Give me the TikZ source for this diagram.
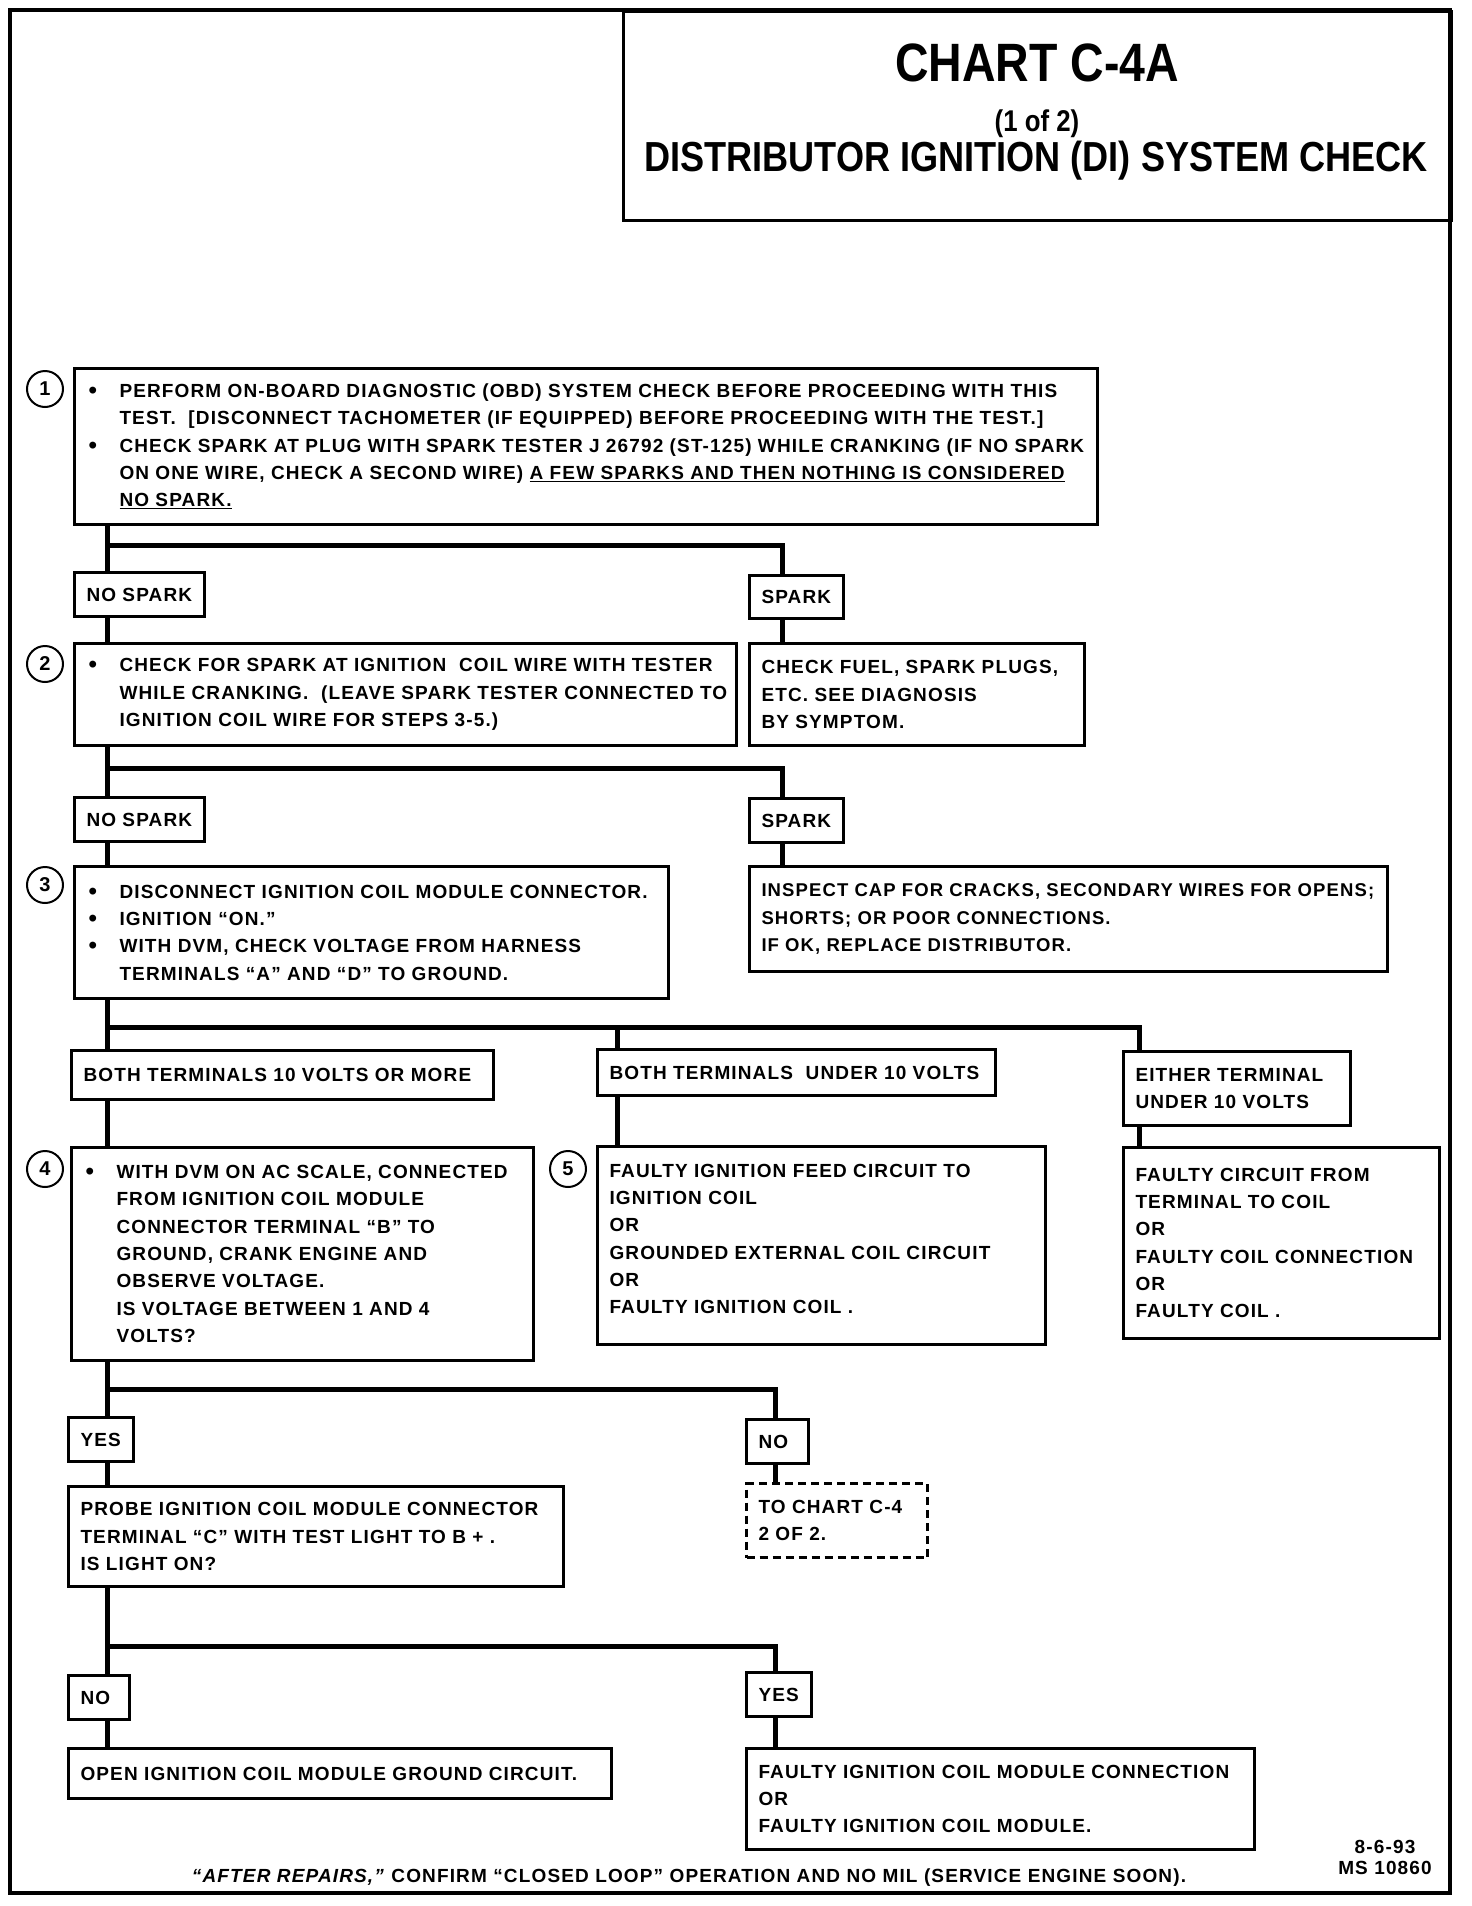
\documentclass[tikz,border=0pt]{standalone}
\usepackage{fontspec}
\setmainfont[LetterSpace=6]{Liberation Sans}
\newfontfamily\condfont[FakeStretch=0.86]{Liberation Sans}
\newcommand\bul[1]{\mbox{\hspace*{2pt}\makebox[31pt][l]{\raisebox{-1pt}{\fontsize{24}{24}\selectfont\textbullet}}#1}}
\newcommand\ind[1]{\mbox{\hspace*{33pt}#1}}
\newcommand\lnx[1]{\mbox{#1}}
\newcommand\bodyfont{\fontsize{19}{27.3}\selectfont\bfseries}
\begin{document}
\begin{tikzpicture}[x=1pt,y=-1pt,
  box/.style={draw,line width=3pt,anchor=north west,align=left,inner xsep=12pt,inner ysep=0pt,font=\bodyfont},
  dbox/.style={box,dash pattern=on 8pt off 5pt},
  conn/.style={line width=5pt},
  num/.style={draw,circle,line width=2pt,minimum size=36pt,inner sep=0pt,font=\fontsize{20}{20}\selectfont\bfseries},
  ttl/.style={anchor=base,inner sep=0pt,font=\condfont\bfseries}
]
\useasboundingbox (0,0) rectangle (1472,1906);
\draw[line width=4pt] (10,10) rectangle (1450,1893);

% title
\node[draw,line width=3pt,anchor=north west,minimum width=828pt,minimum height=209pt,inner sep=0pt] (tbox) at (622,10) {};
\node[ttl,font=\condfont\bfseries\fontsize{54}{60}\selectfont] (t1) at (1037,81) {CHART C-4A};
\node[ttl,font=\condfont\bfseries\fontsize{30}{34}\selectfont] (t2) at (1037,131) {(1 of 2)};
\node[ttl,font=\condfont\bfseries\fontsize{42}{46}\selectfont] (t3) at (1036,171) {DISTRIBUTOR IGNITION (DI) SYSTEM CHECK};

% step 1
\node[num] (c1) at (45,389) {1};
\node[box,text width=999pt,minimum height=156pt] (b1) at (73,367) {%
\bul{PERFORM ON-BOARD DIAGNOSTIC (OBD) SYSTEM CHECK BEFORE PROCEEDING WITH THIS}\\
\ind{TEST.\ \ [DISCONNECT TACHOMETER (IF EQUIPPED) BEFORE PROCEEDING WITH THE TEST.]}\\
\bul{CHECK SPARK AT PLUG WITH SPARK TESTER J 26792 (ST-125) WHILE CRANKING (IF NO SPARK}\\
\ind{ON ONE WIRE, CHECK A SECOND WIRE) \underline{A FEW SPARKS AND THEN NOTHING IS CONSIDERED}}\\
\ind{\underline{NO SPARK.}}};

\coordinate (j1) at (107,545);
\coordinate (j1r) at (782,545);
\node[box,text width=106pt,minimum height=44pt] (ns1) at (73,571) {\lnx{NO SPARK}};
\node[box,text width=70pt,minimum height=43pt] (sp1) at (748,574) {\lnx{SPARK}};

% step 2
\node[num] (c2) at (45,664) {2};
\node[box,text width=638pt,minimum height=102pt] (b2) at (73,642) {%
\bul{CHECK FOR SPARK AT IGNITION\ \ COIL WIRE WITH TESTER}\\
\ind{WHILE CRANKING.\ \ (LEAVE SPARK TESTER CONNECTED TO}\\
\ind{IGNITION COIL WIRE FOR STEPS 3-5.)}};
\node[box,text width=311pt,minimum height=102pt] (fuel) at (748,642) {%
\lnx{CHECK FUEL, SPARK PLUGS,}\\\lnx{ETC. SEE DIAGNOSIS}\\\lnx{BY SYMPTOM.}};

\coordinate (j2) at (107,768);
\coordinate (j2r) at (782,768);
\node[box,text width=106pt,minimum height=44pt] (ns2) at (73,796) {\lnx{NO SPARK}};
\node[box,text width=70pt,minimum height=44pt] (sp2) at (748,797) {\lnx{SPARK}};

% step 3
\node[num] (c3) at (45,885) {3};
\node[box,text width=570pt,minimum height=132pt] (b3) at (73,865) {%
\bul{DISCONNECT IGNITION COIL MODULE CONNECTOR.}\\
\bul{IGNITION “ON.”}\\
\bul{WITH DVM, CHECK VOLTAGE FROM HARNESS}\\
\ind{TERMINALS “A” AND “D” TO GROUND.}};
\node[box,text width=614pt,minimum height=105pt,font=\fontsize{18.5}{27.3}\selectfont\bfseries] (insp) at (748,865) {%
\lnx{INSPECT CAP FOR CRACKS, SECONDARY WIRES FOR OPENS;}\\\lnx{SHORTS; OR POOR CONNECTIONS.}\\\lnx{IF OK, REPLACE DISTRIBUTOR.}};

\coordinate (j3) at (107,1027);
\coordinate (j3m) at (617,1027);
\coordinate (j3r) at (1139,1027);
\node[box,text width=398pt,minimum height=49pt] (l10) at (70,1049) {\lnx{BOTH TERMINALS 10 VOLTS OR MORE}};
\node[box,text width=374pt,minimum height=46pt] (lu10) at (596,1048) {\lnx{BOTH TERMINALS\ \ UNDER 10 VOLTS}};
\node[box,text width=203pt,minimum height=74pt] (leit) at (1122,1050) {\lnx{EITHER TERMINAL}\\\lnx{UNDER 10 VOLTS}};

% step 4 / 5
\node[num] (c4) at (45,1169) {4};
\node[box,text width=438pt,minimum height=213pt] (b4) at (70,1146) {%
\bul{WITH DVM ON AC SCALE, CONNECTED}\\
\ind{FROM IGNITION COIL MODULE}\\
\ind{CONNECTOR TERMINAL “B” TO}\\
\ind{GROUND, CRANK ENGINE AND}\\
\ind{OBSERVE VOLTAGE.}\\
\ind{IS VOLTAGE BETWEEN 1 AND 4}\\
\ind{VOLTS?}};
\node[num] (c5) at (568,1169) {5};
\node[box,text width=424pt,minimum height=198pt] (b5) at (596,1145) {%
\lnx{FAULTY IGNITION FEED CIRCUIT TO}\\\lnx{IGNITION COIL}\\OR\\\lnx{GROUNDED EXTERNAL COIL CIRCUIT}\\OR\\\lnx{FAULTY IGNITION COIL .}\\[-14pt]\mbox{}};
\node[box,text width=292pt,minimum height=191pt] (beit) at (1122,1146) {%
\lnx{FAULTY CIRCUIT FROM}\\\lnx{TERMINAL TO COIL}\\OR\\\lnx{FAULTY COIL CONNECTION}\\OR\\\lnx{FAULTY COIL .}};

\coordinate (j4) at (107,1389);
\coordinate (j4r) at (775,1389);
\node[box,text width=41pt,minimum height=44pt] (yes1) at (67,1416) {YES};
\node[box,text width=38pt,minimum height=44pt] (no1) at (745,1418) {NO};
\node[box,text width=471pt,minimum height=100pt] (probe) at (67,1485) {%
\lnx{PROBE IGNITION COIL MODULE CONNECTOR}\\\lnx{TERMINAL “C” WITH TEST LIGHT TO B + .}\\\lnx{IS LIGHT ON?}};
\node[dbox,text width=157pt,minimum height=74pt] (dash) at (745,1482) {\lnx{TO CHART C-4}\\\lnx{2 OF 2.}};

\coordinate (j5) at (107,1646);
\coordinate (j5r) at (775,1646);
\node[box,text width=37pt,minimum height=44pt] (no2) at (67,1674) {NO};
\node[box,text width=41pt,minimum height=44pt] (yes2) at (745,1671) {YES};
\node[box,text width=519pt,minimum height=50pt] (open) at (67,1747) {\lnx{OPEN IGNITION COIL MODULE GROUND CIRCUIT.}};
\node[box,text width=484pt,minimum height=101pt] (faulty) at (745,1747) {%
\lnx{FAULTY IGNITION COIL MODULE CONNECTION}\\OR\\\lnx{FAULTY IGNITION COIL MODULE.}};

% footer
\node[anchor=base,inner sep=0pt,font=\bodyfont] (foot) at (689,1882) {\textit{“AFTER REPAIRS,”} CONFIRM “CLOSED LOOP” OPERATION AND NO MIL (SERVICE ENGINE SOON).};
\node[anchor=base,inner sep=0pt,font=\fontsize{19}{21}\selectfont\bfseries,align=center] (date) at (1385,1874) {8-6-93\\MS 10860};

% connectors
\draw[conn] (b1.south -| j1) -- (ns1.north -| j1);
\draw[conn] (j1) -- (j1r) -- (sp1.north -| j1r);
\draw[conn] (ns1.south -| j1) -- (b2.north -| j1);
\draw[conn] (sp1.south -| j1r) -- (fuel.north -| j1r);

\draw[conn] (b2.south -| j2) -- (ns2.north -| j2);
\draw[conn] (j2) -- (j2r) -- (sp2.north -| j2r);
\draw[conn] (ns2.south -| j2) -- (b3.north -| j2);
\draw[conn] (sp2.south -| j2r) -- (insp.north -| j2r);

\draw[conn] (b3.south -| j3) -- (l10.north -| j3);
\draw[conn] (j3) -- (j3r) -- (leit.north -| j3r);
\draw[conn] (j3m) -- (lu10.north -| j3m);
\draw[conn] (l10.south -| j3) -- (b4.north -| j3);
\draw[conn] (lu10.south -| j3m) -- (b5.north -| j3m);
\draw[conn] (leit.south -| j3r) -- (beit.north -| j3r);

\draw[conn] (b4.south -| j4) -- (yes1.north -| j4);
\draw[conn] (j4) -- (j4r) -- (no1.north -| j4r);
\draw[conn] (yes1.south -| j4) -- (probe.north -| j4);
\draw[conn] (no1.south -| j4r) -- (dash.north -| j4r);

\draw[conn] (probe.south -| j5) -- (no2.north -| j5);
\draw[conn] (j5) -- (j5r) -- (yes2.north -| j5r);
\draw[conn] (no2.south -| j5) -- (open.north -| j5);
\draw[conn] (yes2.south -| j5r) -- (faulty.north -| j5r);
\end{tikzpicture}
\end{document}
